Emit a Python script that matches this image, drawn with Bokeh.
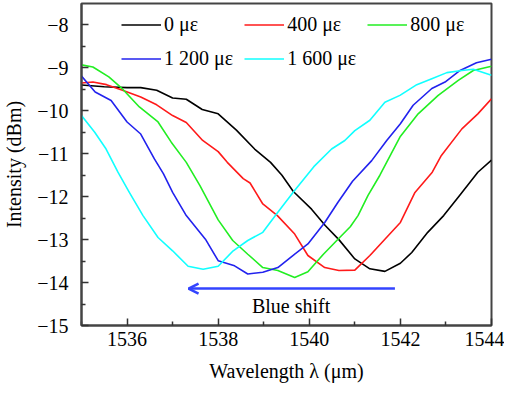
from bokeh.plotting import figure
from bokeh.models import (Range1d, FixedTicker, Legend, LegendItem, Arrow, OpenHead)
from bokeh.core.properties import value
from bokeh.embed import file_html
from bokeh.resources import INLINE

# ---- data ----
wl_0 = [1535.0, 1535.5, 1536.0, 1536.3, 1536.65, 1537.0, 1537.3, 1537.65, 1538.0, 1538.4,
        1538.8, 1539.15, 1539.4, 1539.65, 1540.05, 1540.35, 1540.65, 1541.0, 1541.33, 1541.66,
        1542.0, 1542.25, 1542.6, 1542.95, 1543.3, 1543.7, 1544.0]
int_0 = [-9.40, -9.44, -9.46, -9.46, -9.52, -9.70, -9.73, -9.97, -10.07, -10.45,
         -10.89, -11.20, -11.50, -11.88, -12.29, -12.67, -13.00, -13.45, -13.68, -13.74,
         -13.55, -13.30, -12.83, -12.44, -11.97, -11.43, -11.15]

wl_400 = [1535.0, 1535.25, 1535.55, 1535.9, 1536.3, 1536.65, 1537.0, 1537.3, 1537.66, 1538.0,
          1538.2, 1538.55, 1538.7, 1538.98, 1539.3, 1539.68, 1539.97, 1540.34, 1540.65, 1541.0,
          1541.33, 1541.66, 1542.0, 1542.32, 1542.7, 1542.9, 1543.35, 1543.7, 1544.0]
int_400 = [-9.35, -9.33, -9.39, -9.52, -9.68, -9.86, -10.11, -10.27, -10.69, -10.95,
           -11.20, -11.58, -11.68, -12.17, -12.44, -12.87, -13.37, -13.65, -13.72, -13.71,
           -13.37, -12.99, -12.60, -11.90, -11.43, -11.04, -10.42, -10.07, -9.72]

wl_800 = [1535.0, 1535.25, 1535.6, 1535.9, 1536.27, 1536.68, 1536.97, 1537.3, 1537.6, 1538.0,
          1538.32, 1538.65, 1538.98, 1539.31, 1539.68, 1539.97, 1540.31, 1540.63, 1540.9, 1541.07,
          1541.29, 1541.55, 1541.99, 1542.39, 1542.83, 1543.27, 1543.6, 1544.0]
int_800 = [-8.93, -8.98, -9.21, -9.49, -9.91, -10.26, -10.73, -11.20, -11.74, -12.54,
           -13.02, -13.34, -13.65, -13.72, -13.88, -13.75, -13.34, -12.99, -12.70, -12.44,
           -11.97, -11.50, -10.61, -10.07, -9.64, -9.29, -9.06, -8.96]

wl_1200 = [1535.0, 1535.3, 1535.65, 1536.0, 1536.3, 1536.6, 1536.8, 1537.0, 1537.3, 1537.72,
           1538.0, 1538.36, 1538.65, 1538.98, 1539.31, 1539.64, 1539.97, 1540.34, 1540.63, 1540.95,
           1541.37, 1541.7, 1542.0, 1542.28, 1542.69, 1542.98, 1543.31, 1543.67, 1544.0]
int_1200 = [-9.19, -9.56, -9.76, -10.26, -10.54, -11.12, -11.47, -11.90, -12.44, -12.99,
            -13.49, -13.61, -13.80, -13.76, -13.65, -13.37, -13.10, -12.60, -12.13, -11.64,
            -11.16, -10.69, -10.30, -9.87, -9.48, -9.33, -9.06, -8.88, -8.80]

wl_1600 = [1535.0, 1535.29, 1535.54, 1535.8, 1536.05, 1536.35, 1536.68, 1537.0, 1537.34, 1537.67,
           1538.0, 1538.33, 1538.65, 1538.98, 1539.31, 1539.66, 1540.1, 1540.49, 1540.78, 1541.0,
           1541.33, 1541.66, 1541.99, 1542.36, 1542.69, 1543.02, 1543.35, 1543.6, 1544.0]
int_1600 = [-10.11, -10.50, -10.89, -11.43, -11.90, -12.44, -12.95, -13.26, -13.62, -13.69,
            -13.62, -13.26, -13.02, -12.83, -12.36, -11.88, -11.30, -10.89, -10.69, -10.46,
            -10.22, -9.80, -9.64, -9.39, -9.25, -9.11, -9.06, -9.03, -9.17]

series_labels = ["0 με", "400 με", "800 με", "1 200 με", "1 600 με"]
series_colors = ["#000000", "#ff1a1a", "#22ee22", "#2222ee", "#11ffff"]

x_ticks = [1536, 1538, 1540, 1542, 1544]
x_minor = [1535, 1537, 1539, 1541, 1543]
y_ticks = [-15, -14, -13, -12, -11, -10, -9, -8]
y_minor = [-14.5, -13.5, -12.5, -11.5, -10.5, -9.5, -8.5]
y_tick_labels = {t: "\u2212" + str(abs(t)) for t in y_ticks}

arrow_from = 1541.88
arrow_to = 1537.35
arrow_level = -14.14
shift_text = "Blue shift"
shift_x = 1539.6
shift_y = -14.55

FONT = "Liberation Serif"
FS = "20px"

p = figure(frame_width=410, frame_height=322, output_backend="svg", toolbar_location=None,
           x_range=Range1d(1535, 1544), y_range=Range1d(-15, -7.5),
           min_border_left=79, min_border_right=13, min_border_top=3, min_border_bottom=62,
           background_fill_color="white", border_fill_color="white")

p.xgrid.visible = False
p.ygrid.visible = False
p.outline_line_color = "#444444"
p.outline_line_width = 2

p.xaxis.ticker = FixedTicker(ticks=x_ticks, minor_ticks=x_minor)
p.yaxis.ticker = FixedTicker(ticks=y_ticks, minor_ticks=y_minor)
p.yaxis.major_label_overrides = y_tick_labels

for ax in (p.xaxis[0], p.yaxis[0]):
    ax.axis_line_color = "#444444"
    ax.axis_line_width = 2
    ax.major_tick_in = 7
    ax.major_tick_out = 0
    ax.minor_tick_in = 4
    ax.minor_tick_out = 0
    ax.major_tick_line_color = "#333333"
    ax.minor_tick_line_color = "#333333"
    ax.major_tick_line_width = 1.5
    ax.minor_tick_line_width = 1.5
    ax.major_label_text_font = FONT
    ax.major_label_text_font_size = FS
    ax.major_label_text_color = "black"
    ax.axis_label_text_font = FONT
    ax.axis_label_text_font_size = FS
    ax.axis_label_text_font_style = "normal"
    ax.axis_label_text_color = "black"

p.xaxis.axis_label = "Wavelength λ (μm)"
p.yaxis.axis_label = "Intensity (dBm)"
p.xaxis.major_label_standoff = 6
p.yaxis.major_label_standoff = 13
p.xaxis.axis_label_standoff = 11
p.yaxis.axis_label_standoff = 9

xs = [wl_0, wl_400, wl_800, wl_1200, wl_1600]
ys = [int_0, int_400, int_800, int_1200, int_1600]
renderers = []
for x, y, c in zip(xs, ys, series_colors):
    r = p.line(x, y, line_color=c, line_width=1.6)
    renderers.append(r)

arrow = Arrow(end=OpenHead(line_color="#3344ff", line_width=2.5, size=10),
              x_start=arrow_from, y_start=arrow_level, x_end=arrow_to, y_end=arrow_level,
              line_color="#3344ff", line_width=2.5)
p.add_layout(arrow)

p.text(x=[shift_x], y=[shift_y], text=[shift_text], text_font=value(FONT),
       text_font_size=FS, text_align="center", text_baseline="middle", text_color="black")

items = [LegendItem(label=l, renderers=[r]) for l, r in zip(series_labels, renderers)]
legend = Legend(items=items, location=(40, 255), orientation="horizontal", ncols=3,
                border_line_color=None, background_fill_alpha=0, margin=0, padding=0,
                glyph_width=40, glyph_height=19, label_height=19, label_standoff=3,
                spacing=11, label_text_font=FONT, label_text_font_size=FS,
                label_text_color="black")
p.add_layout(legend, "center")

open("out.html", "w").write(file_html(p, INLINE))
